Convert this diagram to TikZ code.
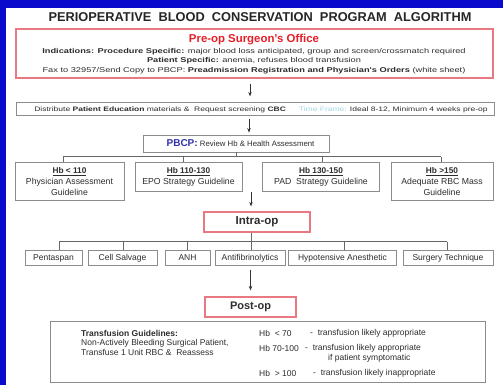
\documentclass[tikz,border=0pt]{standalone}
\usepackage{fontspec}
\setmainfont{Liberation Sans}
\newfontfamily\wsans[FakeStretch=1.32]{Liberation Sans}
\usetikzlibrary{arrows.meta}
\definecolor{bgblue}{RGB}{10,10,205}
\definecolor{boxred}{RGB}{232,120,130}
\definecolor{txtred}{RGB}{232,30,40}
\definecolor{boxgray}{RGB}{140,140,140}
\definecolor{pbcpblue}{RGB}{50,50,170}
\definecolor{tfcyan}{RGB}{165,215,228}
\definecolor{ink}{RGB}{45,45,45}
\begin{document}
\begin{tikzpicture}[x=1pt,y=-1pt,
  every node/.style={inner sep=0pt, text=ink},
  fs/.style={font=\fontsize{#1}{#1}\selectfont},
  ws/.style={font=\wsans\fontsize{#1}{#1}\selectfont, anchor=base},
  redbox/.style={draw=boxred, line width=1.2pt, fill=white},
  graybox/.style={draw=boxgray, line width=0.8pt, fill=white},
  link/.style={draw=black!60, line width=0.7pt},
  arr/.style={draw=black!80, line width=0.7pt, -{Stealth[length=4.5pt,width=3.5pt]}},
  lbl/.style={fs=8.5, anchor=west},
]
\fill[bgblue] (0,0) rectangle (503,385);
\fill[white] (6,8.5) rectangle (503,385);
\useasboundingbox (0,0) rectangle (503,385);

% title
\node[font=\fontsize{12.8}{14}\selectfont\bfseries, text=black!85] (title) at (260,17)
  {PERIOPERATIVE\ \ BLOOD\ \ CONSERVATION\ \ PROGRAM\ \ ALGORITHM};

% pre-op
\node[redbox, minimum width=477pt, minimum height=49pt] (preop) at (254.5,53.5) {};
\node[font=\fontsize{11.4}{12}\selectfont\bfseries, text=txtred] (preopt) at (254,39.5) {Pre-op Surgeon's Office};
\node[ws=7] (ind) at (254,53.5) {\textbf{Indications: Procedure Specific:} major blood loss anticipated, group and screen/crossmatch required};
\node[ws=7] (pat) at (254,62.8) {\textbf{Patient Specific:} anemia, refuses blood transfusion};
\node[ws=7] (fax) at (254,72.1) {Fax to 32957/Send Copy to PBCP: \textbf{Preadmission Registration and Physician's Orders} (white sheet)};

% distribute
\node[graybox, minimum width=478pt, minimum height=13pt] (dist) at (255,109.3) {};
\node[ws=6.45] (distt) at (261,112) {Distribute \textbf{Patient Education} materials \&\ \ Request screening \textbf{CBC}\qquad\textcolor{tfcyan}{Time Frame:} Ideal 8-12, Minimum 4 weeks pre-op};

% PBCP
\node[graybox, minimum width=186pt, minimum height=17pt] (pbcp) at (236,143.5) {};
\node[fs=7.8] (pbcpt) at (240.5,143.5) {\textcolor{pbcpblue}{\fontsize{10}{10}\selectfont\bfseries PBCP:} Review Hb \& Health Assessment};

% Hb boxes
\node[graybox, minimum width=109pt, minimum height=38pt] (b1) at (69.5,181) {};
\node[graybox, minimum width=107pt, minimum height=29pt] (b2) at (188.5,176.5) {};
\node[graybox, minimum width=117pt, minimum height=29pt] (b3) at (321,176.5) {};
\node[graybox, minimum width=102pt, minimum height=38pt] (b4) at (442,181) {};
\node[fs=8.3] (b1a) at (69.5,172) {\textbf{\underline{Hb < 110}}};
\node[fs=8.7] (b1b) at (69.5,182) {Physician Assessment};
\node[fs=8.7] (b1c) at (69.5,192) {Guideline};
\node[fs=8.3] (b2a) at (188.5,172) {\textbf{\underline{Hb 110-130}}};
\node[fs=8.7] (b2b) at (188.5,182) {EPO Strategy Guideline};
\node[fs=8.3] (b3a) at (321,172) {\textbf{\underline{Hb 130-150}}};
\node[fs=8.7] (b3b) at (321,182) {PAD\ \ Strategy Guideline};
\node[fs=8.3] (b4a) at (442,172) {\textbf{\underline{Hb >150}}};
\node[fs=8.7] (b4b) at (442,182) {Adequate RBC Mass};
\node[fs=8.7] (b4c) at (442,192) {Guideline};

% intra-op
\node[redbox, minimum width=106pt, minimum height=20pt, font=\fontsize{11.5}{11.5}\selectfont\bfseries] (intra) at (257,222) {Intra-op};

% six boxes
\node[graybox, minimum width=57pt, minimum height=15pt, fs=8.5] (s1) at (53.5,258) {Pentaspan};
\node[graybox, minimum width=69pt, minimum height=15pt, fs=8.5] (s2) at (122.5,258) {Cell Salvage};
\node[graybox, minimum width=45pt, minimum height=15pt, fs=8.5] (s3) at (187.5,258) {ANH};
\node[graybox, minimum width=70pt, minimum height=15pt, fs=8.5] (s4) at (250,258) {Antifibrinolytics};
\node[graybox, minimum width=108pt, minimum height=15pt, fs=8.5] (s5) at (342.5,258) {Hypotensive Anesthetic};
\node[graybox, minimum width=90pt, minimum height=15pt, fs=8.5] (s6) at (448,258) {Surgery Technique};

% post-op
\node[redbox, minimum width=91pt, minimum height=20pt, font=\fontsize{11}{11}\selectfont\bfseries] (post) at (250.5,307) {Post-op};

% bottom box
\node[graybox, minimum width=435pt, minimum height=61pt] (tg) at (267.5,351.5) {};
\node[lbl, font=\fontsize{8.5}{8.5}\selectfont\bfseries] (tg1) at (81,333.5) {Transfusion Guidelines:};
\node[lbl] (tg2) at (81,343.5) {Non-Actively Bleeding Surgical Patient,};
\node[lbl] (tg3) at (81,352.5) {Transfuse 1 Unit RBC \&\ \ Reassess};
\node[lbl] (r1a) at (259,333) {Hb\ \ < 70};
\node[lbl] (r1b) at (310,333) {-\ \ transfusion likely appropriate};
\node[lbl] (r2a) at (259,348) {Hb\ 70-100};
\node[lbl] (r2b) at (305,348) {-\ \ transfusion likely appropriate};
\node[lbl] (r2c) at (328,358.5) {if patient symptomatic};
\node[lbl] (r3a) at (259,373.5) {Hb\ \ > 100};
\node[lbl] (r3b) at (313,373.5) {-\ \ transfusion likely inappropriate};

% arrows
\draw[arr, shorten <=5pt, shorten >=6pt] ([xshift=-4.5pt]preop.south) -- ([xshift=-4.5pt]preop.south |- dist.north);
\draw[arr, shorten <=3pt, shorten >=2pt] ([xshift=-6pt]dist.south) -- ([xshift=-6pt]dist.south |- pbcp.north);
\coordinate (a3) at (251,192);
\draw[arr, shorten >=5pt] (a3) -- (a3 |- intra.north);
\draw[arr, shorten <=4pt, shorten >=6pt] (s4.south -| post.south) -- (post.north);

% PBCP tree
\coordinate (bar1L) at (63,156.5);
\coordinate (bar1R) at (441,156.5);
\coordinate (bar1b) at (183,156.5);
\coordinate (bar1c) at (322,156.5);
\draw[link] (pbcp.south) -- (pbcp.south |- bar1L);
\draw[link] (bar1L) -- (bar1R);
\draw[link] (bar1L) -- (bar1L |- b1.north);
\draw[link] (bar1b) -- (bar1b |- b2.north);
\draw[link] (bar1c) -- (bar1c |- b3.north);
\draw[link] (bar1R) -- (bar1R |- b4.north);

% intra tree
\coordinate (bar2L) at (59,241.5);
\coordinate (bar2R) at (447,241.5);
\draw[link] ([xshift=-6pt]intra.south) -- ([xshift=-6pt]intra.south |- bar2L);
\draw[link] (bar2L) -- (bar2R);
\foreach \n/\xx in {s1/59,s2/123,s3/187,s4/251,s5/344,s6/447}{
  \coordinate (tap) at (\xx,241.5);
  \draw[link] (tap) -- (tap |- \n.north);
}
\end{tikzpicture}
\end{document}
